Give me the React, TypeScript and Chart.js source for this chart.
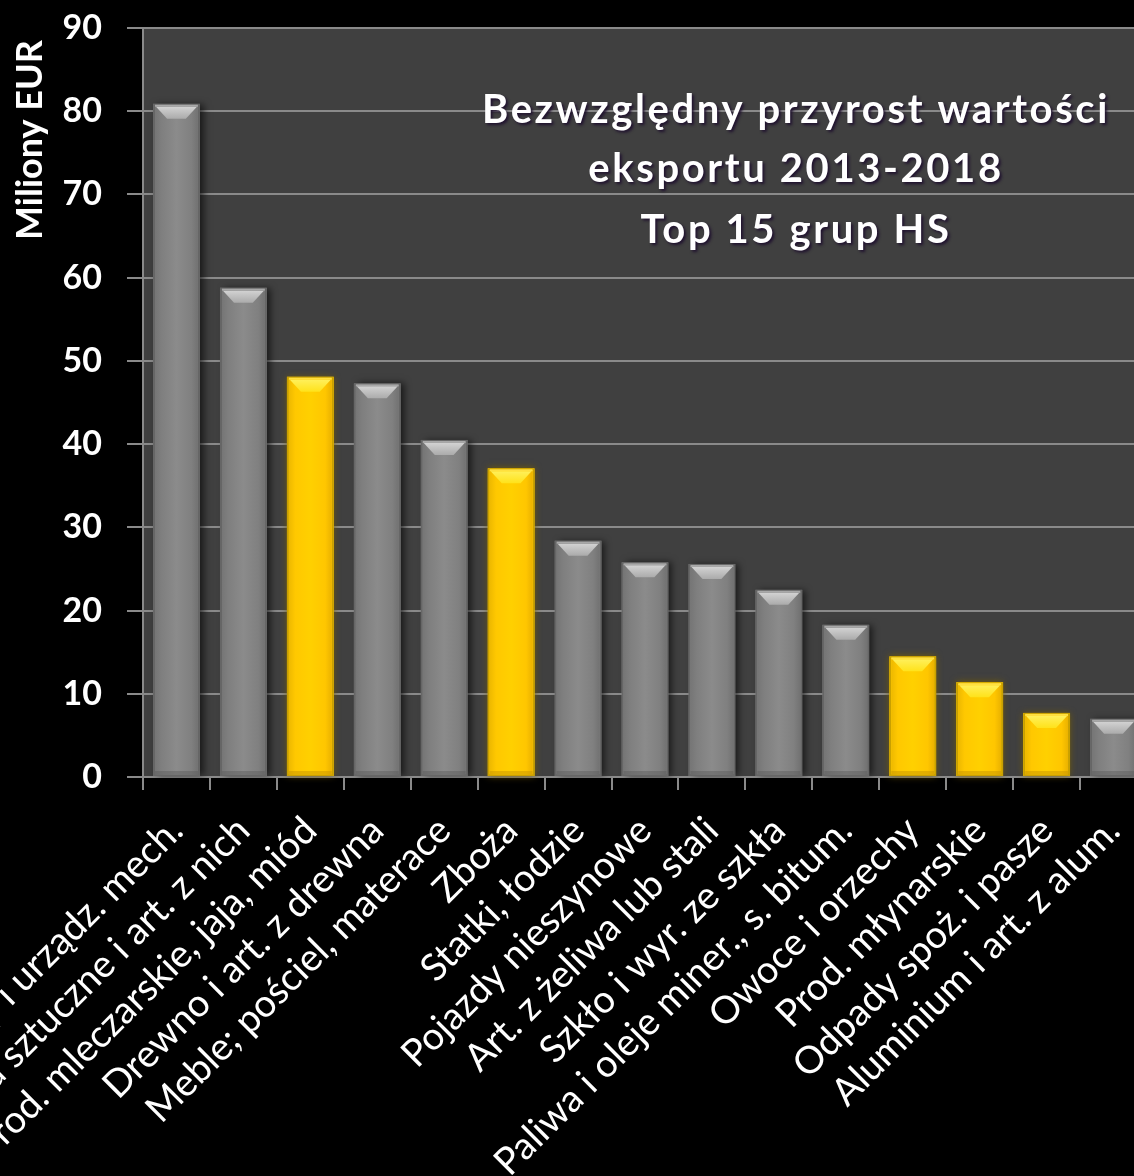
import React, { useEffect, useRef } from "react";
import { Chart, registerables } from "chart.js";

Chart.register(...registerables);

// ---------- data ----------
const categories = [
  "Maszyny i urządz. mech.",
  "Tworzywa sztuczne i art. z nich",
  "Prod. mleczarskie, jaja, miód",
  "Drewno i art. z drewna",
  "Meble; pościel, materace",
  "Zboża",
  "Statki, łodzie",
  "Pojazdy nieszynowe",
  "Art. z żeliwa lub stali",
  "Szkło i wyr. ze szkła",
  "Paliwa i oleje miner., s. bitum.",
  "Owoce i orzechy",
  "Prod. młynarskie",
  "Odpady spoż. i pasze",
  "Aluminium i art. z alum.",
];
const growthValues = [80.9, 58.8, 48.1, 47.3, 40.5, 37.1, 28.4, 25.8, 25.6, 22.5, 18.3, 14.5, 11.4, 7.7, 7.0];
const agriFood = [false, false, true, false, false, true, false, false, false, false, false, true, true, true, false];
const titleLines = ["Bezwzględny przyrost wartości", "eksportu 2013-2018", "Top 15 grup HS"];
const yAxisTitle = "Miliony EUR";
const yMin = 0;
const yMax = 90;
const yStep = 10;

// ---------- layout ----------
const OFFX = 60;
const CW = 1227;
const CH = 1260;
const Y_AXIS_W = 203;
const X_AXIS_H = 483;
const FONT = "Lato, 'Open Sans', sans-serif";

const plotBg = {
  id: "plotBg",
  beforeDraw(chart: any) {
    const { ctx, chartArea: a } = chart;
    ctx.save();
    ctx.fillStyle = "#404040";
    ctx.fillRect(a.left, a.top, a.right - a.left, a.bottom - a.top);
    ctx.restore();
  },
};

function barRect(el: any) {
  const p = el.getProps(["x", "y", "base", "width"], true);
  return { L: p.x - p.width / 2, R: p.x + p.width / 2, T: p.y, B: p.base, W: p.width };
}

const barFx = {
  id: "barFx",
  beforeDatasetsDraw(chart: any) {
    const { ctx } = chart;
    const meta = chart.getDatasetMeta(0);
    meta.data.forEach((el: any, i: number) => {
      const { L, T, B, W } = barRect(el);
      const hl = agriFood[i];
      ctx.save();
      ctx.shadowColor = hl ? "rgba(120,95,0,0.95)" : "rgba(0,0,0,0.6)";
      ctx.shadowBlur = 7;
      ctx.shadowOffsetX = hl ? 0 : 4;
      ctx.shadowOffsetY = 0;
      ctx.fillStyle = hl ? "#FFCC00" : "#7a7a7a";
      ctx.fillRect(L, T, W, B - T);
      ctx.restore();
    });
  },
  afterDatasetsDraw(chart: any) {
    const { ctx } = chart;
    const meta = chart.getDatasetMeta(0);
    meta.data.forEach((el: any, i: number) => {
      const { L, R, T, B, W } = barRect(el);
      const hl = agriFood[i];
      ctx.save();
      const g = ctx.createLinearGradient(L, 0, R, 0);
      if (hl) {
        g.addColorStop(0, "#E8B400");
        g.addColorStop(0.18, "#FFC800");
        g.addColorStop(0.5, "#FFD000");
        g.addColorStop(0.82, "#FFC600");
        g.addColorStop(1, "#E4AC00");
      } else {
        g.addColorStop(0, "#737373");
        g.addColorStop(0.18, "#7f7f7f");
        g.addColorStop(0.5, "#8b8b8b");
        g.addColorStop(0.82, "#808080");
        g.addColorStop(1, "#6e6e6e");
      }
      ctx.fillStyle = g;
      ctx.fillRect(L + 2, T + 2, W - 4, B - T - 3);
      ctx.fillStyle = hl ? "rgba(200,150,0,0.5)" : "rgba(90,90,90,0.45)";
      ctx.fillRect(L + 2, B - 5, W - 4, 4);
      const bh = Math.min(15, (B - T) * 0.35);
      const inset = W * 0.3;
      const vg = ctx.createLinearGradient(0, T, 0, T + bh);
      if (hl) {
        vg.addColorStop(0, "#FFF36A");
        vg.addColorStop(1, "#FFE21A");
      } else {
        vg.addColorStop(0, "#dcdcdc");
        vg.addColorStop(1, "#ababab");
      }
      ctx.fillStyle = vg;
      ctx.beginPath();
      ctx.moveTo(L + 3, T + 3);
      ctx.lineTo(R - 3, T + 3);
      ctx.lineTo(R - inset, T + bh);
      ctx.lineTo(L + inset, T + bh);
      ctx.closePath();
      ctx.fill();
      ctx.fillStyle = hl ? "#FFE040" : "#a8a8a8";
      ctx.fillRect(L + 2, T + 1, W - 4, 2);
      ctx.restore();
    });
  },
};

const textFx = {
  id: "textFx",
  afterDraw(chart: any) {
    const { ctx } = chart;
    ctx.save();
    ctx.font = `bold 40px ${FONT}`;
    (ctx as any).letterSpacing = "2.6px";
    ctx.textAlign = "center";
    ctx.textBaseline = "alphabetic";
    ctx.fillStyle = "#ffffff";
    ctx.shadowColor = "rgba(30,15,45,0.95)";
    ctx.shadowBlur = 3;
    ctx.shadowOffsetX = 2;
    ctx.shadowOffsetY = 2;
    const cx = 796 + OFFX;
    const baselines = [123, 182, 243];
    titleLines.forEach((t, k) => ctx.fillText(t, cx, baselines[k]));
    ctx.restore();

    ctx.save();
    ctx.font = `bold 36px ${FONT}`;
    ctx.fillStyle = "#ffffff";
    ctx.textAlign = "center";
    ctx.textBaseline = "alphabetic";
    ctx.translate(42 + OFFX, 140);
    ctx.rotate(-Math.PI / 2);
    ctx.fillText(yAxisTitle, 0, 0);
    ctx.restore();
  },
};

export default function App() {
  const ref = useRef<HTMLCanvasElement | null>(null);

  useEffect(() => {
    if (!ref.current) return;
    const chart = new Chart(ref.current, {
      type: "bar",
      data: {
        labels: categories,
        datasets: [
          {
            data: growthValues,
            backgroundColor: agriFood.map((h) => (h ? "#FFCC00" : "#7f7f7f")),
            borderColor: agriFood.map((h) => (h ? "#C9A000" : "#666666")),
            borderWidth: 2,
            borderSkipped: false,
            barPercentage: 0.7,
            categoryPercentage: 1.0,
          },
        ],
      },
      options: {
        animation: false,
        responsive: false,
        devicePixelRatio: 1,
        layout: { padding: { top: 28, right: 20, bottom: 0, left: 0 } },
        plugins: {
          legend: { display: false },
          title: { display: false },
          tooltip: { enabled: false },
        },
        scales: {
          x: {
            offset: true,
            grid: {
              display: true,
              offset: true,
              drawOnChartArea: false,
              drawTicks: true,
              tickLength: 13,
              color: "#8a8a8a",
              lineWidth: 2,
            },
            border: { display: true, color: "#8a8a8a", width: 2 },
            ticks: {
              autoSkip: false,
              minRotation: 45,
              maxRotation: 45,
              padding: 18,
              color: "#ffffff",
              font: { family: FONT, size: 38, weight: "normal" },
            },
            afterFit(scale: any) {
              scale.height = X_AXIS_H;
              scale.paddingLeft = 0;
              scale.paddingRight = 0;
            },
          },
          y: {
            min: yMin,
            max: yMax,
            grid: {
              color: "#8a8a8a",
              lineWidth: 2,
              tickLength: 16,
            },
            border: { display: true, color: "#8a8a8a", width: 2 },
            ticks: {
              stepSize: yStep,
              padding: 25,
              color: "#ffffff",
              font: { family: FONT, size: 34, weight: "bold" },
            },
            afterFit(scale: any) {
              scale.width = Y_AXIS_W;
              scale.paddingTop = 0;
              scale.paddingBottom = 0;
            },
          },
        },
      },
      plugins: [plotBg, barFx, textFx],
    });
    return () => chart.destroy();
  }, []);

  return (
    <div
      style={{
        position: "fixed",
        left: 0,
        top: 0,
        width: 1134,
        height: 1176,
        overflow: "hidden",
        background: "#000000",
      }}
    >
      <canvas
        ref={ref}
        width={CW}
        height={CH}
        style={{ position: "absolute", left: -OFFX, top: 0, width: CW, height: CH }}
      />
    </div>
  );
}
